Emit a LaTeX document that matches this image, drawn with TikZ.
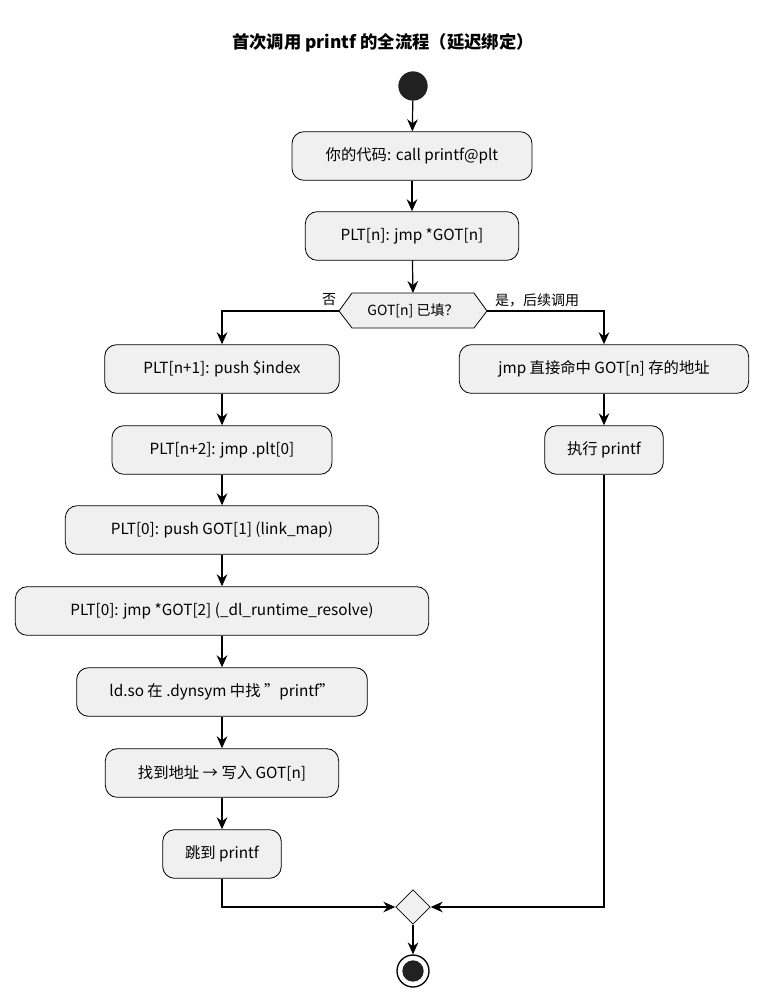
\documentclass[tikz,border=0pt]{standalone}
\usepackage{fontspec}
\setmainfont{Noto Sans CJK SC}
\usetikzlibrary{arrows.meta,shapes.geometric}
\begin{document}
\begin{tikzpicture}[x=0.75pt,y=-0.75pt,
 box/.style={draw=black,fill=gray!12,rounded corners=9pt,minimum height=36.5pt,inner sep=0pt,font=\fontsize{11.5}{13}\selectfont,line width=0.6pt},
 arr/.style={-{Stealth[length=9pt,width=8pt,inset=3pt]},line width=0.9pt},
 lbl/.style={font=\fontsize{10.5}{12}\selectfont}]
\useasboundingbox (0,0) rectangle (763,1003);
\node[font=\bfseries\fontsize{13}{15}\selectfont] (title) at (383,43) {首次调用 printf 的全流程（延迟绑定）};
\node[circle,fill=black!87,minimum size=22pt,inner sep=0pt] (start) at (413,86) {};
\node[box,minimum width=180pt] (b1) at (412,156) {你的代码: call printf@plt};
\node[box,minimum width=160pt] (b2) at (412,236) {PLT[n]: jmp *GOT[n]};
\coordinate (d1) at (413,311);
\draw[fill=gray!12,line width=0.6pt] (339,311) -- (352,293) -- (474,293) -- (487,311) -- (474,328) -- (352,328) -- cycle;
\node[font=\fontsize{10.5}{12}\selectfont] (dq) at (d1) {GOT[n] 已填？};
\node[lbl] (no) at (329,300) {否};
\node[lbl] (yes) at (537,300) {是，后续调用};
\node[box,minimum width=176pt] (b3) at (222,369) {PLT[n+1]: push \$index};
\node[box,minimum width=165pt] (b4) at (222,450) {PLT[n+2]: jmp .plt[0]};
\node[box,minimum width=235pt] (b5) at (222,530) {PLT[0]: push GOT[1] (link\_map)};
\node[box,minimum width=310pt] (b6) at (222,611) {PLT[0]: jmp *GOT[2] (\_dl\_runtime\_resolve)};
\node[box,minimum width=218pt] (b7) at (222,692) {ld.so 在 .dynsym 中找 "printf"};
\node[box,minimum width=175pt] (b8) at (222,773) {找到地址 → 写入 GOT[n]};
\node[box,minimum width=89pt] (b9) at (222,854) {跳到 printf};
\node[box,minimum width=217pt] (r1) at (604,369) {jmp 直接命中 GOT[n] 存的地址};
\node[box,minimum width=89pt] (r2) at (604,450) {执行 printf};
\node[diamond,draw,fill=gray!12,minimum size=26pt,inner sep=0pt,line width=0.6pt] (m) at (413,907) {};
\node[circle,draw,line width=1pt,minimum size=24pt,inner sep=0pt] (end) at (413,971) {};
\node[circle,fill=black!87,minimum size=16pt,inner sep=0pt] at (end) {};
\draw[arr] (start) -- (b1);
\draw[arr] (b1) -- (b2);
\draw[arr] (b2) -- (413,293);
\draw[arr] (339,311) -| (b3.north);
\draw[arr] (487,311) -| (r1.north);
\draw[arr] (b3) -- (b4);
\draw[arr] (b4) -- (b5);
\draw[arr] (b5) -- (b6);
\draw[arr] (b6) -- (b7);
\draw[arr] (b7) -- (b8);
\draw[arr] (b8) -- (b9);
\draw[arr] (r1) -- (r2);
\draw[arr] (b9.south) |- (m.west);
\draw[arr] (r2.south) |- (m.east);
\draw[arr] (m) -- (end);
\end{tikzpicture}
\end{document}
